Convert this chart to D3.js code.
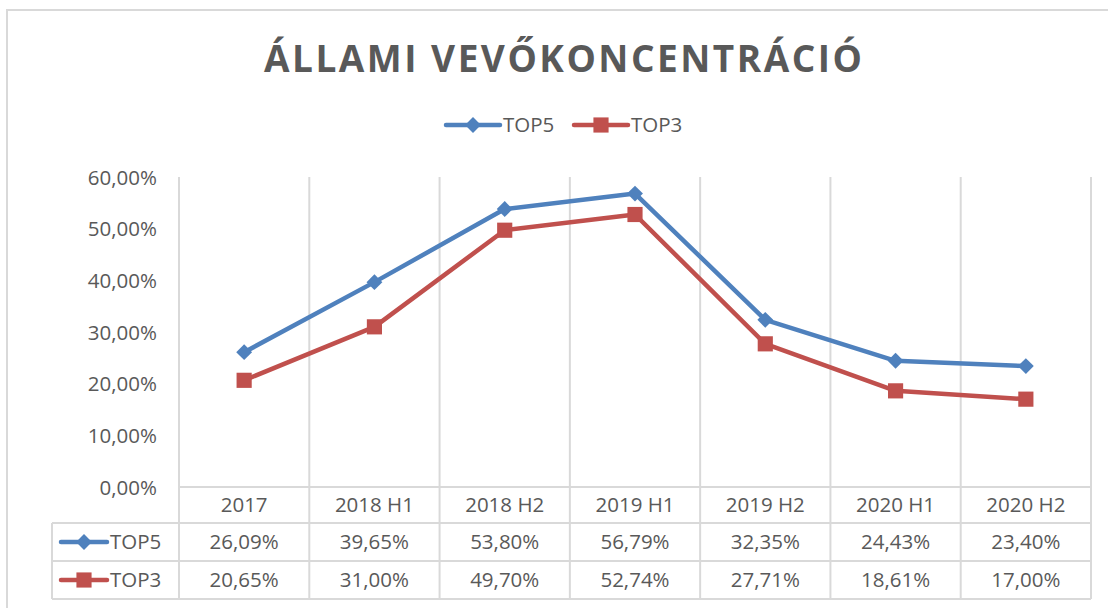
<!DOCTYPE html>
<html>
<head>
<meta charset="utf-8">
<script src="https://cdn.jsdelivr.net/npm/d3@7"></script>
<style>
  body { margin: 0; background: #fff; }
  text { font-family: "Open Sans", "Noto Sans", sans-serif; fill: #595959; }
</style>
</head>
<body>
<script>
var categories = ["2017", "2018 H1", "2018 H2", "2019 H1", "2019 H2", "2020 H1", "2020 H2"];
var top5 = [0.2609, 0.3965, 0.5380, 0.5679, 0.3235, 0.2443, 0.2340];
var top3 = [0.2065, 0.3100, 0.4970, 0.5274, 0.2771, 0.1861, 0.1700];
var yTicks = [0, 0.1, 0.2, 0.3, 0.4, 0.5, 0.6];
var seriesNames = ["TOP5", "TOP3"];

var w = 1108;
var h = 608;
var blue = "#4f81bd";
var red = "#c0504d";
var grid = "#d9d9d9";
var fs = 20.5;

var huLocale = d3.formatLocale({decimal: ",", thousands: " ", grouping: [3], currency: ["", " Ft"]});
var pct = huLocale.format(".2%");

var svg = d3.select("body").append("svg").attr("width", w).attr("height", h);

// chart frame
svg.append("rect").attr("x", 7).attr("y", 10).attr("width", w).attr("height", h)
    .attr("fill", "none").attr("stroke", grid).attr("stroke-width", 2);

var xScale = d3.scaleBand().domain(categories).range([179, 1091]);
var yScale = d3.scaleLinear().domain([0, 0.6]).range([487, 177]);
var cx = function (d) { return xScale(d) + xScale.bandwidth() / 2; };

var rowTop = 487, rowH = [36, 38, 38];
var rowY = [rowTop, rowTop + rowH[0], rowTop + rowH[0] + rowH[1], rowTop + rowH[0] + rowH[1] + rowH[2]];
var tableLeft = 52;

// vertical gridlines (through the data table)
var bounds = categories.map(function (c) { return xScale(c); }).concat([xScale.range()[1]]);
svg.selectAll(".vgrid").data(bounds).enter().append("line").attr("class", "vgrid")
    .attr("x1", d => d).attr("x2", d => d)
    .attr("y1", yScale(0.6)).attr("y2", rowY[3])
    .attr("stroke", grid).attr("stroke-width", 2);

// horizontal table lines
svg.append("line").attr("x1", 179).attr("x2", 1091).attr("y1", rowY[0]).attr("y2", rowY[0])
    .attr("stroke", grid).attr("stroke-width", 2);
[rowY[1], rowY[2], rowY[3]].forEach(function (y) {
    svg.append("line").attr("x1", tableLeft).attr("x2", 1091).attr("y1", y).attr("y2", y)
        .attr("stroke", grid).attr("stroke-width", 2);
});
svg.append("line").attr("x1", tableLeft).attr("x2", tableLeft).attr("y1", rowY[1]).attr("y2", rowY[3])
    .attr("stroke", grid).attr("stroke-width", 2);

// y axis
var yAxis = d3.axisLeft(yScale).tickValues(yTicks).tickSize(0).tickPadding(0).tickFormat(pct);
var gy = svg.append("g").attr("transform", "translate(157,0)").call(yAxis);
gy.select(".domain").remove();
gy.selectAll("text").attr("font-size", fs).attr("fill", "#595959")
    .attr("font-family", "'Open Sans', sans-serif").attr("dy", "0.35em");

// category labels (table header)
svg.selectAll(".cat").data(categories).enter().append("text").attr("class", "cat")
    .attr("x", cx).attr("y", (rowY[0] + rowY[1]) / 2 + 7)
    .attr("text-anchor", "middle").attr("font-size", fs).text(d => d);

// lines
var line = d3.line().x(function (d, i) { return cx(categories[i]); }).y(d => yScale(d));
svg.append("path").datum(top5).attr("d", line).attr("fill", "none")
    .attr("stroke", blue).attr("stroke-width", 4.5).attr("stroke-linejoin", "round");
svg.append("path").datum(top3).attr("d", line).attr("fill", "none")
    .attr("stroke", red).attr("stroke-width", 4.5).attr("stroke-linejoin", "round");

var diamond = d3.symbol().type(d3.symbolDiamond2).size(160);
var square = d3.symbol().type(d3.symbolSquare).size(230);

svg.selectAll(".m5").data(top5).enter().append("path").attr("class", "m5")
    .attr("d", diamond).attr("fill", blue)
    .attr("transform", function (d, i) { return "translate(" + cx(categories[i]) + "," + yScale(d) + ")"; });
svg.selectAll(".m3").data(top3).enter().append("path").attr("class", "m3")
    .attr("d", square).attr("fill", red)
    .attr("transform", function (d, i) { return "translate(" + cx(categories[i]) + "," + yScale(d) + ")"; });

// table rows
[top5, top3].forEach(function (vals, r) {
    var yMid = (rowY[r + 1] + rowY[r + 2]) / 2;
    var col = r == 0 ? blue : red;
    svg.append("line").attr("x1", 61).attr("x2", 107).attr("y1", yMid).attr("y2", yMid)
        .attr("stroke", col).attr("stroke-width", 4.5).attr("stroke-linecap", "round");
    svg.append("path").attr("d", r == 0 ? diamond : square).attr("fill", col)
        .attr("transform", "translate(84," + yMid + ")");
    svg.append("text").attr("x", 110).attr("y", yMid + 7).attr("font-size", fs).text(seriesNames[r]);
    svg.selectAll(".v" + r).data(vals).enter().append("text").attr("class", "v" + r)
        .attr("x", function (d, i) { return cx(categories[i]); }).attr("y", yMid + 7)
        .attr("text-anchor", "middle").attr("font-size", fs).text(d => pct(d));
});

// title
svg.append("text").attr("x", 563).attr("y", 72).attr("text-anchor", "middle")
    .attr("font-size", 37).attr("font-weight", "bold").attr("textLength", 598)
    .attr("lengthAdjust", "spacing")
    .text("ÁLLAMI VEVŐKONCENTRÁCIÓ");

// legend
var legend = svg.selectAll(".legend").data(seriesNames).enter().append("g").attr("class", "legend")
    .attr("transform", function (d, i) { return "translate(" + (446 + i * 128) + ",125)"; });
legend.append("line").attr("x1", 0).attr("x2", 54).attr("y1", 0).attr("y2", 0)
    .attr("stroke", (d, i) => i == 0 ? blue : red).attr("stroke-width", 4.5).attr("stroke-linecap", "round");
legend.append("path").attr("d", (d, i) => i == 0 ? diamond() : square())
    .attr("fill", (d, i) => i == 0 ? blue : red).attr("transform", "translate(27,0)");
legend.append("text").attr("x", 57).attr("y", 7).attr("font-size", fs).text(d => d);
</script>
</body>
</html>
